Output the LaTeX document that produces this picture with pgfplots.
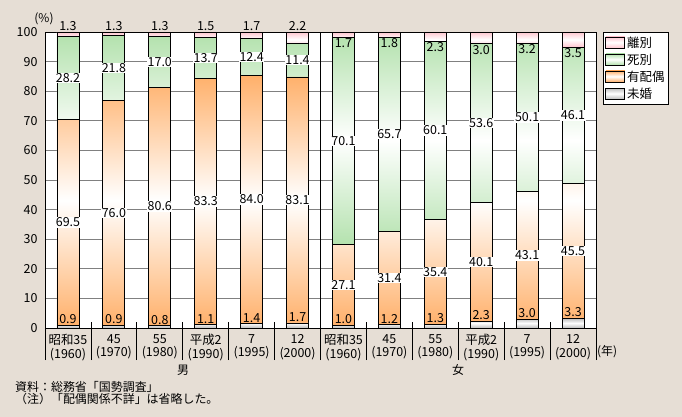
\documentclass[border=0pt]{standalone}
\usepackage{pgfplots}
\pgfplotsset{compat=1.18}
\usepackage{pgfplotstable}
\usepackage{fontspec}
\setmainfont{Noto Sans CJK JP}
\definecolor{bg}{HTML}{E6DED5}
\definecolor{cgray}{HTML}{BDBDBD}
\definecolor{corange}{HTML}{FFB06A}
\definecolor{cgreen}{HTML}{B4E2AE}
\definecolor{cpink}{HTML}{FFC6D0}
\definecolor{gridc}{HTML}{808080}

\pgfplotstableread{
x  mi   yu   si   ri   rb
0  0.9  69.5 28.2 1.3  1.4
1  0.9  76.0 21.8 1.3  1.3
2  0.8  80.6 17.0 1.3  1.6
3  1.1  83.3 13.7 1.5  1.9
4  1.4  84.0 12.4 1.7  2.2
5  1.7  83.1 11.4 2.2  3.8
6  1.0  27.1 70.1 1.7  1.8
7  1.2  31.4 65.7 1.8  1.7
8  1.3  35.4 60.1 2.3  3.2
9  2.3  40.1 53.6 3.0  4.0
10 3.0  43.1 50.1 3.2  3.8
11 3.3  45.5 46.1 3.5  5.1
}\data

\begin{document}
\begin{tikzpicture}[font=\fontsize{12}{14}\selectfont]
\fill[bg] (-45bp,-89bp) rectangle (637bp,328bp);
\pgfplotsset{
  myleg/.style={legend image code/.code={\draw[##1, line width=0.7bp] (0bp,-5bp) rectangle (19bp,6bp);}},
}
\begin{axis}[
  at={(0,0)}, anchor=south west,
  scale only axis, width=551bp, height=296bp,
  ybar stacked, bar width=22bp,
  xmin=-0.5, xmax=11.5, ymin=0, ymax=100,
  axis background/.style={fill=white},
  xtick={0,...,11},
  xticklabels={{昭和35\\(1960)},{45\\(1970)},{55\\(1980)},{平成2\\(1990)},{7\\(1995)},{12\\(2000)},
               {昭和35\\(1960)},{45\\(1970)},{55\\(1980)},{平成2\\(1990)},{7\\(1995)},{12\\(2000)}},
  xticklabel style={align=center, font=\fontsize{12.5}{13.5}\selectfont, yshift=-3bp},
  ytick={0,10,...,100},
  yticklabel style={xshift=-4bp, font=\fontsize{12.5}{14}\selectfont},
  ymajorgrids, grid style={gridc, line width=0.8bp},
  major tick length=0pt,
  minor xtick={0.5,1.5,...,10.5},
  minor tick length=6bp,
  tick align=inside,
  xtick pos=bottom, ytick pos=left,
  extra x ticks={-0.5,0.5,...,11.5},
  extra x tick labels={},
  extra x tick style={tick align=outside, major tick length=32bp},
  tick style={black, line width=0.8bp},
  axis line style={black, line width=0.9bp},
  /pgf/number format/assume math mode=true,
  clip=false,
  reverse legend,
  legend style={at={(1,1)}, anchor=north west, xshift=7bp, draw=black, line width=0.8bp,
    fill=white, inner xsep=2bp, inner ysep=2.5bp, row sep=1.2bp, legend cell align=left,
    font=\fontsize{12.5}{14}\selectfont},
]
\addplot[draw=black, line width=0.8bp, top color=cgray, bottom color=cgray, middle color=white, myleg] table[x=x,y=mi]{\data};
\addplot[draw=black, line width=0.8bp, top color=corange, bottom color=corange, middle color=white, myleg] table[x=x,y=yu]{\data};
\addplot[draw=black, line width=0.8bp, top color=cgreen, bottom color=cgreen, middle color=white, myleg] table[x=x,y=si]{\data};
\addplot[draw=black, line width=0.8bp, top color=cpink, bottom color=cpink, middle color=white, myleg] table[x=x,y=rb]{\data};
\legend{未婚,有配偶,死別,離別}
\draw[black, line width=0.9bp] (axis cs:5.5,0) -- (axis cs:5.5,100);
\end{axis}

\begin{axis}[
  at={(0,0)}, anchor=south west,
  scale only axis, width=551bp, height=296bp,
  xmin=-0.5, xmax=11.5, ymin=0, ymax=100,
  hide axis, clip=false,
  nodes near coords, point meta=explicit symbolic,
  every node near coord/.append style={font=\fontsize{12.5}{14}\selectfont},
]
\addplot[draw=none, mark=none, nodes near coords style={anchor=south, inner sep=1bp}]
  table[x=x, y=mi, meta=mi]{\data};
\addplot[draw=none, mark=none, nodes near coords style={anchor=center, fill=white, inner sep=0.6bp}]
  table[x=x, y expr=\thisrow{mi}+\thisrow{yu}/2, meta=yu]{\data};
\addplot[draw=none, mark=none, nodes near coords style={anchor=center, fill=white, inner sep=0.6bp}]
  table[x=x, y expr=\thisrow{mi}+\thisrow{yu}+\thisrow{si}/2, meta=si]{\data};
\addplot[draw=none, mark=none, restrict x to domain=0:5, nodes near coords style={anchor=south, inner sep=1bp}]
  table[x=x, y expr=100, meta=ri]{\data};
\addplot[draw=none, mark=none, restrict x to domain=6:11, nodes near coords style={anchor=north, inner sep=1bp}]
  table[x=x, y expr=\thisrow{mi}+\thisrow{yu}+\thisrow{si}, meta=ri]{\data};
\end{axis}

\node at (-1bp,309bp) {(\%)};
\node at (138bp,-42bp) {男};
\node at (413bp,-42bp) {女};
\node[anchor=west, inner sep=0pt] at (552bp,-24bp) {(年)};
\node[anchor=west, inner sep=0pt] at (-30bp,-59bp) {資料：総務省「国勢調査」};
\node[anchor=west, inner sep=0pt] at (-30bp,-71bp) {（注）「配偶関係不詳」は省略した。};
\pgfresetboundingbox
\useasboundingbox (-45bp,-89bp) rectangle (637bp,328bp);
\end{tikzpicture}
\end{document}
